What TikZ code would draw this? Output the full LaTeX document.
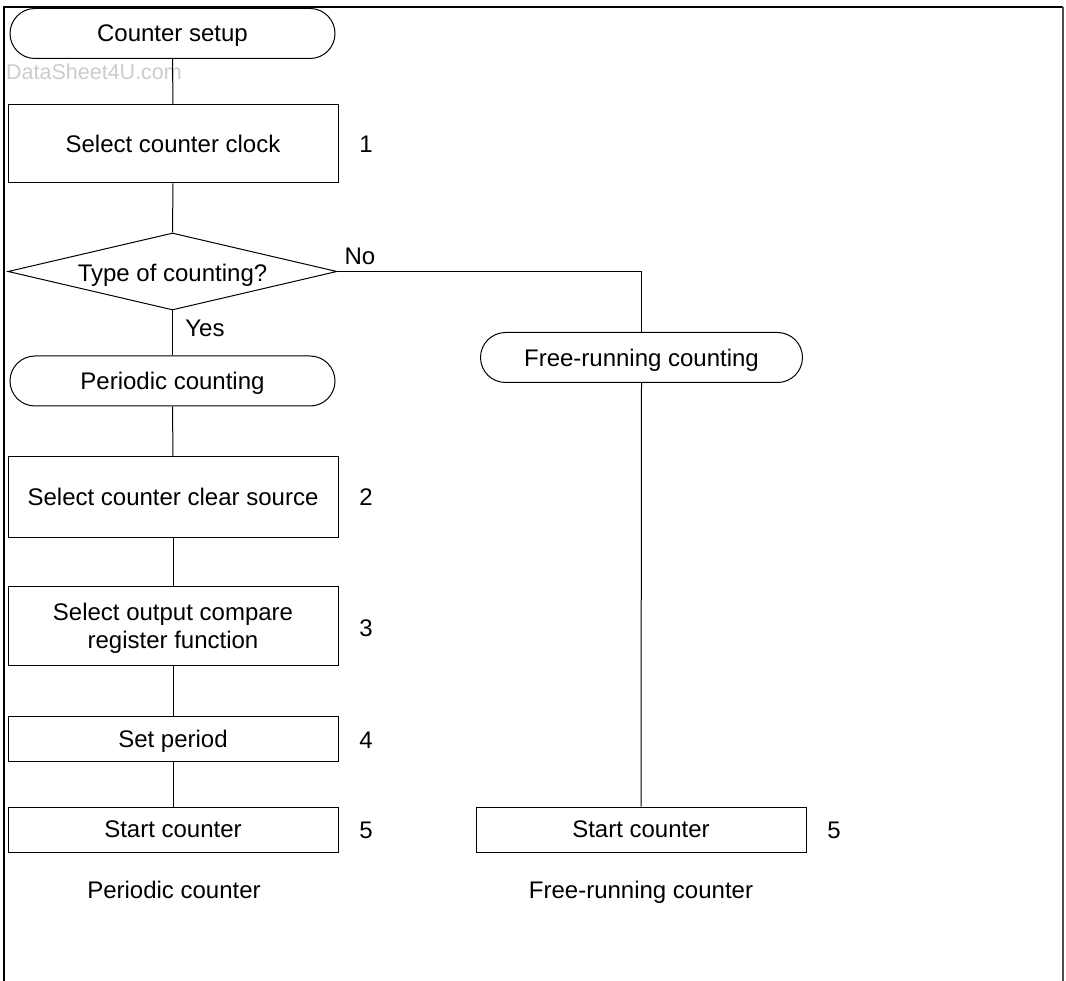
\documentclass[tikz,border=0pt]{standalone}
\usepackage{fontspec}
\setmainfont{Liberation Sans}
\usetikzlibrary{shapes.geometric}
\tikzset{
  base/.style={draw=black, line width=1pt, inner sep=0pt, align=center, text depth=0pt, font=\fontsize{24}{28}\selectfont},
  term/.style={base, rectangle, rounded corners=25pt, minimum height=50pt},
  proc/.style={base, rectangle},
  dec/.style={draw=black, line width=1pt, diamond, inner sep=0pt, minimum width=329pt, minimum height=77pt},
  lbl/.style={inner sep=0pt, text depth=0pt, font=\fontsize{24}{28}\selectfont},
  conn/.style={line width=1pt, draw=black},
  frame/.style={line width=1.5pt, draw=black},
  rframe/.style={line width=2pt, draw=black!70}
}
\begin{document}
\begin{tikzpicture}[x=1pt, y=-1pt]
\useasboundingbox (0,0) rectangle (1066,981);
\fill[white] (0,0) rectangle (1066,981);
\draw[frame] (4,981) -- (4,7) -- (1062.5,7);
\draw[rframe] (1062.5,7) -- (1062.5,981);

\node[lbl, font=\fontsize{21.5}{24}\selectfont, text=black!20, anchor=west] (wm) at (6,72) {DataSheet4U.com};

\node[term, minimum width=325pt] (setup) at (172.5,33.5) {Counter setup};
\node[proc, minimum width=330pt, minimum height=78pt] (clock) at (173,144) {Select counter clock};
\node[lbl] (n1) at (366,144) {1};
\node[dec] (type) at (172.5,271.5) {};
\node[lbl] (typet) at (172.5,273) {Type of counting?};
\node[lbl] (no) at (360,256) {No};
\node[lbl] (yes) at (205,328) {Yes};
\node[term, minimum width=325pt] (periodic) at (172.5,381) {Periodic counting};
\node[term, minimum width=322pt] (free) at (641.5,357.5) {Free-running counting};
\node[proc, minimum width=330pt, minimum height=80pt] (clear) at (173,497) {Select counter clear source};
\node[lbl] (n2) at (366,497) {2};
\node[proc, minimum width=330pt, minimum height=79pt] (ocr) at (173,625.5) {Select output compare\\register function};
\node[lbl] (n3) at (366,628) {3};
\node[proc, minimum width=330pt, minimum height=45pt] (period) at (173,738.5) {Set period};
\node[lbl] (n4) at (366,740) {4};
\node[proc, minimum width=330pt, minimum height=45pt] (start1) at (173,829.5) {Start counter};
\node[lbl] (n5a) at (366,830) {5};
\node[proc, minimum width=330pt, minimum height=45pt] (start2) at (641,829.5) {Start counter};
\node[lbl] (n5b) at (834,830) {5};
\node[lbl] (pc) at (174,890) {Periodic counter};
\node[lbl] (fc) at (641,890) {Free-running counter};

\draw[conn] (setup.south) -- (clock.north);
\draw[conn] (clock.south) -- (type.north);
\draw[conn] (type.south) -- (periodic.north);
\draw[conn] (type.east) -| (free.north);
\draw[conn] (periodic.south) -- (clear.north);
\draw[conn] (clear.south) -- (ocr.north);
\draw[conn] (ocr.south) -- (period.north);
\draw[conn] (period.south) -- (start1.north);
\draw[conn] (free.south) -- (start2.north);
\end{tikzpicture}
\end{document}
